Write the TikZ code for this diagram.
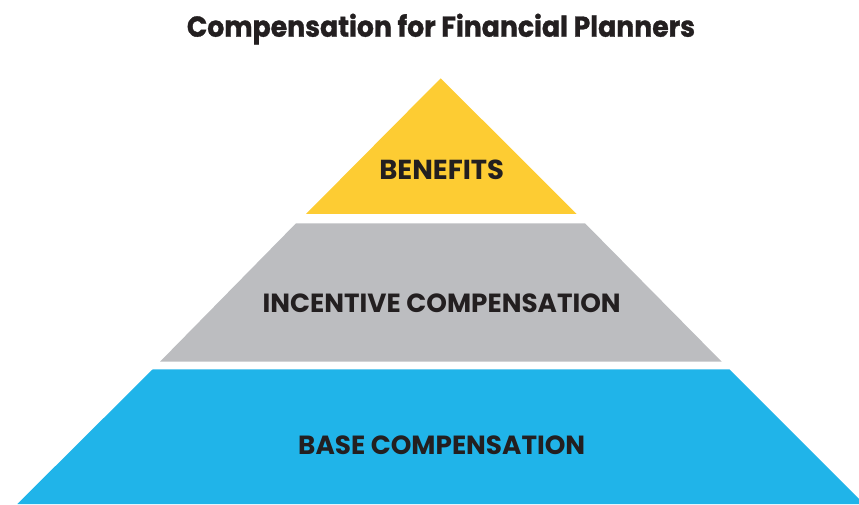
\documentclass[tikz,border=0pt]{standalone}
\usepackage{fontspec}
\setmainfont{Poppins}
\newfontfamily\titlefont{Poppins}[BoldFeatures={FakeBold=1.2}]
\definecolor{pyellow}{RGB}{253,204,51}
\definecolor{pgray}{RGB}{188,189,192}
\definecolor{pblue}{RGB}{32,180,233}
\definecolor{ptext}{RGB}{35,31,32}
\begin{document}
\begin{tikzpicture}[x=1pt,y=1pt,
  lbl/.style={anchor=base,text=ptext,font=\bfseries,inner sep=0pt}]
\useasboundingbox (0,0) rectangle (859,504);
\fill[pyellow] (440.7,425.7) -- (576.7,290) -- (306,290) -- cycle;
\fill[pgray] (296,280.7) -- (585,280.7) -- (721.7,142.3) -- (160,142.3) -- cycle;
\fill[pblue] (152.7,134.7) -- (729.3,134.7) -- (859,5) -- (859,0) -- (17.3,0) -- cycle;
\node[lbl,font=\titlefont\bfseries] (title) at (441,467.3) {\resizebox{508pt}{23pt}{Compensation for Financial Planners}};
\node[lbl] (benefits) at (441.7,324) {\resizebox{124.7pt}{!}{BENEFITS}};
\node[lbl] (incentive) at (441.7,191.3) {\resizebox{358pt}{!}{INCENTIVE COMPENSATION}};
\node[lbl] (base) at (441.7,49.7) {\resizebox{287pt}{!}{BASE COMPENSATION}};
\end{tikzpicture}
\end{document}
